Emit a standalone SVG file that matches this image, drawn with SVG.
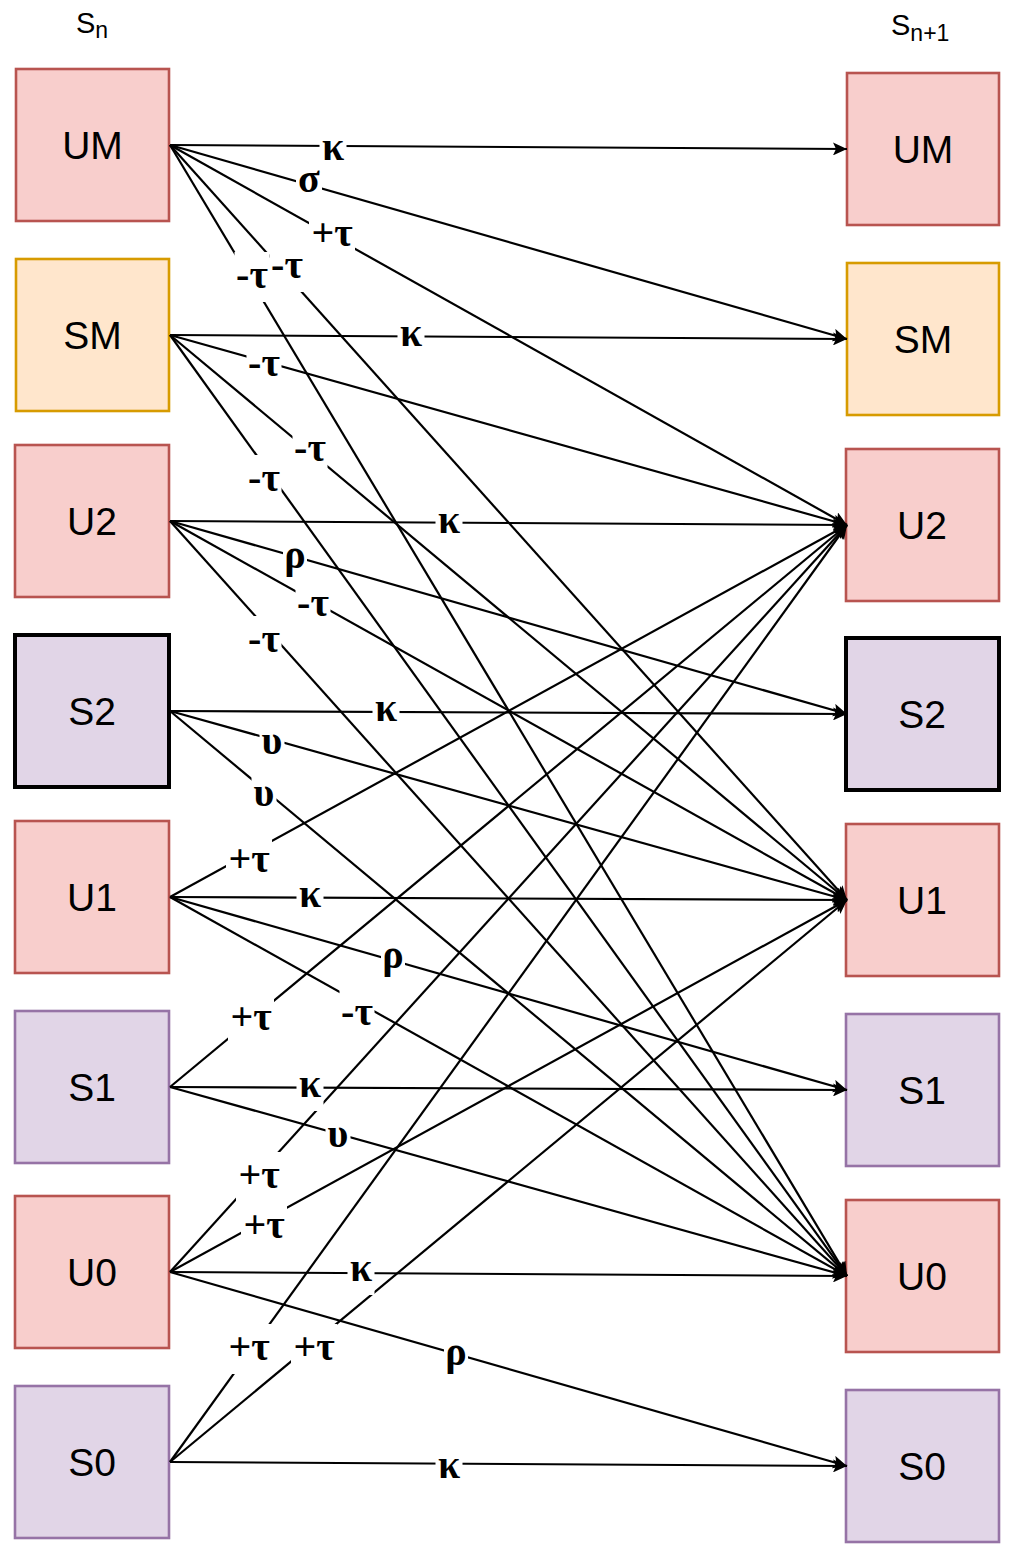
<svg xmlns="http://www.w3.org/2000/svg" width="1016" height="1548" viewBox="0 0 1016 1548">
<style>
.nt{font-family:"Liberation Sans",Arial,sans-serif;font-size:39px;text-anchor:middle;fill:#000}
.hd{font-family:"Liberation Sans",Arial,sans-serif;font-size:29px;fill:#000}
.pk{fill:#f8cecc;stroke:#b85450;stroke-width:2.6}
.or{fill:#ffe6cc;stroke:#d79b00;stroke-width:2.6}
.pu{fill:#e1d5e7;stroke:#9673a6;stroke-width:2.6}
.bk{fill:#e1d5e7;stroke:#000;stroke-width:4}
.e{fill:none;stroke:#000;stroke-width:2.2;marker-end:url(#arr)}
.lb{fill:#fff}
.lt{font-family:"Liberation Serif","Times New Roman",serif;font-weight:bold;font-size:40px;text-anchor:middle;fill:#000}
</style>
<defs>
<marker id="arr" markerUnits="userSpaceOnUse" markerWidth="14" markerHeight="13" refX="14" refY="6.5" orient="auto">
<path d="M0,0 L14,6.5 L0,13 L3,6.5 Z" fill="#000"/>
</marker>
</defs>
<rect width="1016" height="1548" fill="#fff"/>
<g id="headers">
<text class="hd" x="76" y="33">S<tspan font-size="23" dy="5">n</tspan></text>
<text class="hd" x="891" y="35">S<tspan font-size="23" dy="6">n+1</tspan></text>
</g>
<g id="L_UM"><rect class="pk" x="16" y="69" width="153" height="152"/><text class="nt" x="92.5" y="159">UM</text></g>
<g id="L_SM"><rect class="or" x="16" y="259" width="153" height="152"/><text class="nt" x="92.5" y="349">SM</text></g>
<g id="L_U2"><rect class="pk" x="15" y="445" width="154" height="152"/><text class="nt" x="92" y="535">U2</text></g>
<g id="L_S2"><rect class="bk" x="15" y="635" width="154" height="152"/><text class="nt" x="92" y="725">S2</text></g>
<g id="L_U1"><rect class="pk" x="15" y="821" width="154" height="152"/><text class="nt" x="92" y="911">U1</text></g>
<g id="L_S1"><rect class="pu" x="15" y="1011" width="154" height="152"/><text class="nt" x="92" y="1101">S1</text></g>
<g id="L_U0"><rect class="pk" x="15" y="1196" width="154" height="152"/><text class="nt" x="92" y="1286">U0</text></g>
<g id="L_S0"><rect class="pu" x="15" y="1386" width="154" height="152"/><text class="nt" x="92" y="1476">S0</text></g>
<g id="R_UM"><rect class="pk" x="847" y="73" width="152" height="152"/><text class="nt" x="923" y="163">UM</text></g>
<g id="R_SM"><rect class="or" x="847" y="263" width="152" height="152"/><text class="nt" x="923" y="353">SM</text></g>
<g id="R_U2"><rect class="pk" x="846" y="449" width="153" height="152"/><text class="nt" x="922" y="539">U2</text></g>
<g id="R_S2"><rect class="bk" x="846" y="638" width="153" height="152"/><text class="nt" x="922" y="728">S2</text></g>
<g id="R_U1"><rect class="pk" x="846" y="824" width="153" height="152"/><text class="nt" x="922" y="914">U1</text></g>
<g id="R_S1"><rect class="pu" x="846" y="1014" width="153" height="152"/><text class="nt" x="922" y="1104">S1</text></g>
<g id="R_U0"><rect class="pk" x="846" y="1200" width="153" height="152"/><text class="nt" x="922" y="1290">U0</text></g>
<g id="R_S0"><rect class="pu" x="846" y="1390" width="153" height="152"/><text class="nt" x="922" y="1480">S0</text></g>
<g id="connectors">
<g id="lines">
<path class="e" d="M170,145 L847,149"/>
<path class="e" d="M170,145 L847,339"/>
<path class="e" d="M170,145 L847,525"/>
<path class="e" d="M170,145 L847,1276"/>
<path class="e" d="M170,145 L847,900"/>
<path class="e" d="M170,335 L847,339"/>
<path class="e" d="M170,335 L847,525"/>
<path class="e" d="M170,335 L847,900"/>
<path class="e" d="M170,335 L847,1276"/>
<path class="e" d="M170,521 L847,525"/>
<path class="e" d="M170,521 L847,714"/>
<path class="e" d="M170,521 L847,900"/>
<path class="e" d="M170,521 L847,1276"/>
<path class="e" d="M170,711 L847,714"/>
<path class="e" d="M170,711 L847,900"/>
<path class="e" d="M170,711 L847,1276"/>
<path class="e" d="M170,897 L847,525"/>
<path class="e" d="M170,897 L847,900"/>
<path class="e" d="M170,897 L847,1090"/>
<path class="e" d="M170,897 L847,1276"/>
<path class="e" d="M170,1087 L847,525"/>
<path class="e" d="M170,1087 L847,1090"/>
<path class="e" d="M170,1087 L847,1276"/>
<path class="e" d="M170,1272 L847,525"/>
<path class="e" d="M170,1272 L847,900"/>
<path class="e" d="M170,1272 L847,1276"/>
<path class="e" d="M170,1272 L847,1466"/>
<path class="e" d="M170,1462 L847,525"/>
<path class="e" d="M170,1462 L847,900"/>
<path class="e" d="M170,1462 L847,1466"/>
</g>
<g id="labels">
<rect class="lb" x="319.5" y="124" width="27" height="50"/><text class="lt" x="333" y="160">κ</text>
<rect class="lb" x="296" y="156" width="26" height="50"/><text class="lt" x="309" y="192">σ</text>
<rect class="lb" x="309" y="210" width="46" height="50"/><text class="lt" x="332" y="246">+τ</text>
<rect class="lb" x="234.5" y="252" width="35" height="50"/><text class="lt" x="252" y="288">-τ</text>
<rect class="lb" x="269.5" y="242" width="35" height="50"/><text class="lt" x="287" y="278">-τ</text>
<rect class="lb" x="397.5" y="310" width="27" height="50"/><text class="lt" x="411" y="346">κ</text>
<rect class="lb" x="246.5" y="340" width="35" height="50"/><text class="lt" x="264" y="376">-τ</text>
<rect class="lb" x="292.5" y="425" width="35" height="50"/><text class="lt" x="310" y="461">-τ</text>
<rect class="lb" x="246.5" y="455" width="35" height="50"/><text class="lt" x="264" y="491">-τ</text>
<rect class="lb" x="435.5" y="497" width="27" height="50"/><text class="lt" x="449" y="533">κ</text>
<rect class="lb" x="283" y="532" width="24" height="50"/><text class="lt" x="295" y="568">ρ</text>
<rect class="lb" x="295.5" y="580" width="35" height="50"/><text class="lt" x="313" y="616">-τ</text>
<rect class="lb" x="246.5" y="616" width="35" height="50"/><text class="lt" x="264" y="652">-τ</text>
<rect class="lb" x="372.5" y="685" width="27" height="50"/><text class="lt" x="386" y="721">κ</text>
<rect class="lb" x="259.5" y="718" width="25" height="50"/><text class="lt" x="272" y="754">υ</text>
<rect class="lb" x="251.5" y="770" width="25" height="50"/><text class="lt" x="264" y="806">υ</text>
<rect class="lb" x="226" y="836" width="46" height="50"/><text class="lt" x="249" y="872">+τ</text>
<rect class="lb" x="296.5" y="871" width="27" height="50"/><text class="lt" x="310" y="907">κ</text>
<rect class="lb" x="381" y="932" width="24" height="50"/><text class="lt" x="393" y="968">ρ</text>
<rect class="lb" x="339.5" y="989" width="35" height="50"/><text class="lt" x="357" y="1025">-τ</text>
<rect class="lb" x="228" y="994" width="46" height="50"/><text class="lt" x="251" y="1030">+τ</text>
<rect class="lb" x="296.5" y="1061" width="27" height="50"/><text class="lt" x="310" y="1097">κ</text>
<rect class="lb" x="325.5" y="1111" width="25" height="50"/><text class="lt" x="338" y="1147">υ</text>
<rect class="lb" x="236" y="1152" width="46" height="50"/><text class="lt" x="259" y="1188">+τ</text>
<rect class="lb" x="241" y="1202" width="46" height="50"/><text class="lt" x="264" y="1238">+τ</text>
<rect class="lb" x="347.5" y="1245" width="27" height="50"/><text class="lt" x="361" y="1281">κ</text>
<rect class="lb" x="444" y="1329" width="24" height="50"/><text class="lt" x="456" y="1365">ρ</text>
<rect class="lb" x="226" y="1324" width="46" height="50"/><text class="lt" x="249" y="1360">+τ</text>
<rect class="lb" x="291" y="1324" width="46" height="50"/><text class="lt" x="314" y="1360">+τ</text>
<rect class="lb" x="435.5" y="1442" width="27" height="50"/><text class="lt" x="449" y="1478">κ</text>
</g>
</g>
</svg>
